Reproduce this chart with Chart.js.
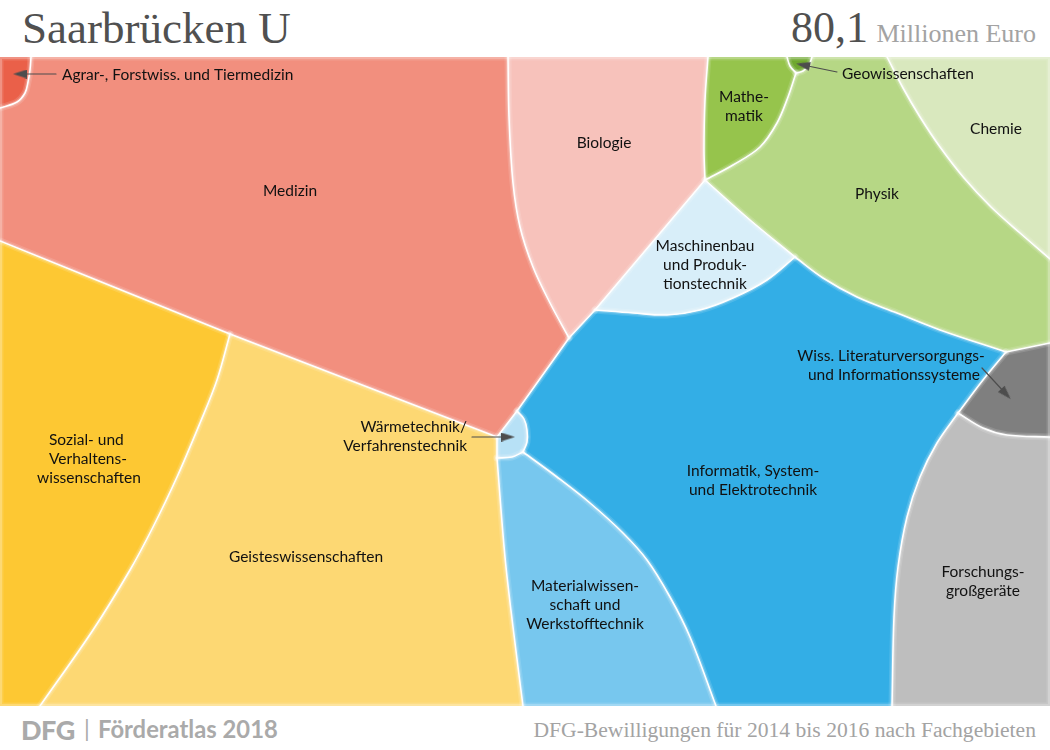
<!DOCTYPE html>
<html>
<head>
<meta charset="utf-8">
<script src="https://cdn.jsdelivr.net/npm/chart.js@4"></script>
<style>
  body { margin: 0; background: #fff; width: 1050px; height: 750px; overflow: hidden; position: relative; }
  #myChart { position: absolute; left: 0; top: 57px; }
  .t { position: absolute; white-space: nowrap; line-height: 1; }
  .serif { font-family: "Liberation Serif", serif; }
  .sans { font-family: Lato, sans-serif; font-weight: 700; color: #aaaaaa; }
</style>
</head>
<body>
<div class="t serif" style="left:22px;top:6px;font-size:45px;color:#505050">Saarbrücken U</div>
<div class="t serif" style="right:182px;top:6px;font-size:44px;color:#505050">80,1</div>
<div class="t serif" style="right:14px;top:21px;font-size:26px;color:#a3a3a3">Millionen Euro</div>
<canvas id="myChart" width="1050" height="649"></canvas>
<div class="t sans" style="left:21px;top:716px;font-size:27px;font-weight:900;letter-spacing:-0.5px">DFG</div>
<div class="t sans" style="left:84px;top:717px;font-size:23px;font-weight:400">|</div>
<div class="t sans" style="left:98px;top:718px;font-size:23.8px">Förderatlas 2018</div>
<div class="t serif" style="right:14px;top:720px;font-size:21.6px;color:#a3a3a3">DFG-Bewilligungen für 2014 bis 2016 nach Fachgebieten</div>

<script>
  //=======================================================//
  // Grenzlinien zwischen den Fachgebieten
  const edges = {
    agrar: [[31,57],[30,70],[28,82],[25,93],[17,102],[0,108]],
    medBio: [[508,57],[509,117],[513,183],[520,227],[533,267],[550,303],[569,338]],
    medBlue: [[569,338],[517,411]],
    medWaerme: [[517,411],[497,437]],
    medGeist: [[497,437],[230,334]],
    medSoz: [[230,334],[0,241]],
    bioMathe: [[708,57],[705,100],[704,150],[705,180]],
    bioMasch: [[705,180],[595,310]],
    bioBlue: [[595,310],[569,338]],
    geoMathe: [[787,57],[790,66],[796,73]],
    geoPhys: [[796,73],[803,71],[809,65],[812,57]],
    mathePhys: [[796,73],[788,97],[777,123],[760,147],[733,165],[705,180]],
    physChem: [[887,57],[903,88],[920,117],[940,147],[964,178],[991,207],[1020,233],[1050,259]],
    physMasch: [[705,180],[750,220],[795,257]],
    maschBlue: [[595,310],[633,313],[667,315],[700,310],[733,298],[767,280],[795,257]],
    physBlue: [[795,257],[823,278],[857,297],[897,313],[940,330],[1006,352]],
    physGrey: [[1006,352],[1050,343]],
    blueGrey: [[1006,352],[983,380],[958,413]],
    blueForsch: [[958,413],[937,443],[920,477],[907,517],[898,567],[894,617],[892,706]],
    greyForsch: [[958,413],[983,428],[1007,435],[1050,437]],
    blueWaerme: [[517,411],[524,419],[527,430],[527,442],[523,452]],
    matWaerme: [[497,458],[512,457],[523,452]],
    blueMat: [[523,452],[557,477],[590,503],[623,533],[647,560],[670,597],[690,637],[716,706]],
    geistWaerme: [[497,437],[497,458]],
    geistMat: [[497,458],[505,557],[513,627],[523,706]],
    geistSoz: [[230,334],[217,380],[200,423],[177,477],[153,527],[130,570],[93,630],[40,706]]
  };

  // Fachgebiete: Farbe + Umriss ('-name' = Grenzlinie rueckwaerts)
  const regions = [
    { name: 'Agrar-, Forstwiss. und Tiermedizin', color: '#ea6049', path: [[0,57], 'agrar'] },
    { name: 'Medizin', color: '#f28f7e', path: ['-agrar', 'medBio', 'medBlue', 'medWaerme', 'medGeist', 'medSoz'] },
    { name: 'Biologie', color: '#f7c2bb', path: ['medBio', '-bioBlue', '-bioMasch', '-bioMathe'] },
    { name: 'Mathematik', color: '#96c44c', path: ['bioMathe', '-mathePhys', '-geoMathe'] },
    { name: 'Geowissenschaften', color: '#6fa82e', path: ['geoMathe', 'geoPhys'] },
    { name: 'Physik', color: '#b6d785', path: ['geoPhys', 'physChem', '-physGrey', '-physBlue', '-physMasch', '-mathePhys'] },
    { name: 'Chemie', color: '#d9e8be', path: ['physChem', [1050,57]] },
    { name: 'Maschinenbau', color: '#d8eef9', path: ['physMasch', '-maschBlue', '-bioMasch'] },
    { name: 'Informatik', color: '#33aee6', path: ['maschBlue', 'physBlue', 'blueGrey', 'blueForsch', '-blueMat', '-blueWaerme', '-medBlue', '-bioBlue'] },
    { name: 'Waermetechnik', color: '#b7e1f6', path: ['-medWaerme', 'blueWaerme', '-matWaerme'] },
    { name: 'Materialwissenschaft', color: '#77c7ee', path: ['matWaerme', 'blueMat', '-geistMat'] },
    { name: 'Geisteswissenschaften', color: '#fdd873', path: ['-medGeist', 'geistWaerme', 'geistMat', '-geistSoz'] },
    { name: 'Sozial', color: '#fdc833', path: ['-medSoz', 'geistSoz', [0,706]] },
    { name: 'Wiss. Literatur', color: '#7f7f7f', path: ['physGrey', '-greyForsch', '-blueGrey'] },
    { name: 'Forschungsgrossgeraete', color: '#bebebe', path: ['greyForsch', [1050,706], '-blueForsch'] }
  ];

  const labels = [
    { x: 62, y: 75, align: 'left', text: 'Agrar-, Forstwiss. und Tiermedizin' },
    { x: 290, y: 191, text: 'Medizin' },
    { x: 604, y: 143, text: 'Biologie' },
    { x: 744, y: 97, text: 'Mathe-' },
    { x: 744, y: 116, text: 'matik' },
    { x: 842, y: 74, align: 'left', text: 'Geowissenschaften' },
    { x: 996, y: 129, text: 'Chemie' },
    { x: 877, y: 194, text: 'Physik' },
    { x: 705, y: 246, text: 'Maschinenbau' },
    { x: 705, y: 265, text: 'und Produk-' },
    { x: 705, y: 284, text: 'tionstechnik' },
    { x: 891, y: 356, text: 'Wiss. Literaturversorgungs-' },
    { x: 894, y: 375, text: 'und Informationssysteme' },
    { x: 753, y: 471, text: 'Informatik, System-' },
    { x: 753, y: 490, text: 'und Elektrotechnik' },
    { x: 983, y: 572, text: 'Forschungs-' },
    { x: 983, y: 591, text: 'großgeräte' },
    { x: 585, y: 586, text: 'Materialwissen-' },
    { x: 585, y: 605, text: 'schaft und' },
    { x: 585, y: 624, text: 'Werkstofftechnik' },
    { x: 467, y: 427, align: 'right', text: 'Wärmetechnik/' },
    { x: 467, y: 446, align: 'right', text: 'Verfahrenstechnik' },
    { x: 49, y: 440, align: 'left', text: 'Sozial- und' },
    { x: 49, y: 459, align: 'left', text: 'Verhaltens-' },
    { x: 37, y: 478, align: 'left', text: 'wissenschaften' },
    { x: 306, y: 557, text: 'Geisteswissenschaften' }
  ];

  // Pfeile: von der Beschriftung zur (kleinen) Flaeche
  const arrows = [
    { from: [56,74], to: [20,74] },
    { from: [837,72], to: [803,65] },
    { from: [472,437], to: [508,437] },
    { from: [982,368], to: [1006,394] }
  ];

  // doppelte Punkte an den Ecken halten die Kurve dort spitz
  function buildPath(path) {
    let pts = [];
    path.forEach(p => {
      if (typeof p === 'string') {
        let e = edges[p.replace('-', '')];
        if (p[0] === '-') e = e.slice().reverse();
        pts.push(e[0]);
        pts = pts.concat(e);
        pts.push(e[e.length - 1]);
      } else {
        pts.push(p, p);
      }
    });
    pts.push(pts[0], pts[0]);
    return pts.map(p => ({ x: p[0], y: p[1] }));
  }

  function line(points, color, width, order) {
    return {
      data: points.map(p => ({ x: p[0], y: p[1] })),
      showLine: true, fill: false, tension: 0.35,
      borderColor: color, borderWidth: width,
      pointRadius: 0, order: order, clip: 0,
      borderCapStyle: 'round', borderJoinStyle: 'round'
    };
  }

  // Pfeilspitze als eigener Punktstil
  const head = document.createElement('canvas');
  head.width = 9; head.height = 14;
  const hc = head.getContext('2d');
  hc.fillStyle = '#4d4d4d';
  hc.beginPath(); hc.moveTo(4.5, 0); hc.lineTo(9, 14); hc.lineTo(0, 14); hc.closePath(); hc.fill();

  const datasets = [];
  regions.forEach(r => {
    datasets.push({
      label: r.name,
      data: buildPath(r.path),
      showLine: true, fill: 'shape', tension: 0.35,
      backgroundColor: r.color, borderWidth: 0,
      pointRadius: 0, order: 5, clip: 0
    });
  });
  const frame = [[0,57],[1050,57],[1050,57],[1050,706],[1050,706],[0,706],[0,706],[0,57]];
  Object.values(edges).concat([frame]).forEach(e => {
    datasets.push(line(e, 'rgba(255,255,255,0.13)', 7, 4));
    datasets.push(line(e, 'rgba(255,255,255,0.22)', 4, 3));
  });
  Object.values(edges).forEach(e => datasets.push(line(e, '#ffffff', 1.6, 2)));
  arrows.forEach(a => {
    const angle = Math.atan2(a.to[1] - a.from[1], a.to[0] - a.from[0]) * 180 / Math.PI + 90;
    const ds = line([a.from, a.to], '#4d4d4d', 1.2, 1);
    ds.pointRadius = [0, 7];
    ds.pointStyle = head;
    ds.pointRotation = angle;
    ds.clip = false;
    datasets.push(ds);
  });

  const labelPlugin = {
    id: 'fieldLabels',
    afterDatasetsDraw(chart) {
      const c = chart.ctx;
      c.save();
      c.font = '15.5px Lato';
      c.fillStyle = '#111111';
      c.textBaseline = 'middle';
      labels.forEach(l => {
        c.textAlign = l.align || 'center';
        c.fillText(l.text, chart.scales.x.getPixelForValue(l.x), chart.scales.y.getPixelForValue(l.y));
      });
      c.restore();
    }
  };

  new Chart(document.getElementById('myChart'), {
    type: 'scatter',
    data: { datasets: datasets },
    options: {
      responsive: false,
      animation: false,
      layout: { padding: 0, autoPadding: false },
      scales: {
        x: { type: 'linear', min: 0, max: 1050, display: false },
        y: { type: 'linear', min: 57, max: 706, reverse: true, display: false }
      },
      plugins: { legend: { display: false }, tooltip: { enabled: false } }
    },
    plugins: [labelPlugin]
  });
</script>
</body>
</html>
